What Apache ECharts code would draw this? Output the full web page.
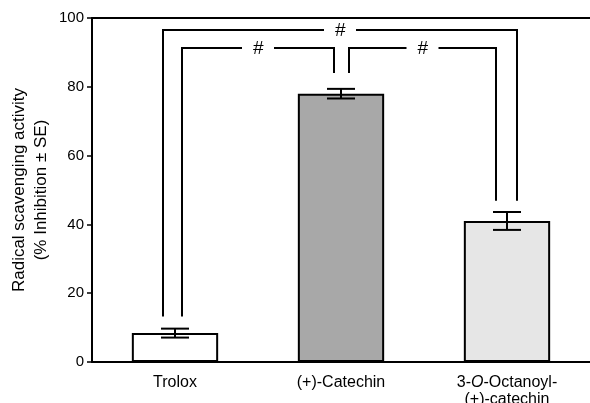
<!DOCTYPE html>
<html>
<head>
<meta charset="utf-8">
<script src="https://cdn.jsdelivr.net/npm/echarts@6/dist/echarts.min.js"></script>
<style>
  html, body { margin: 0; padding: 0; background: #fff; }
  #chart { width: 590px; height: 403px; }
</style>
</head>
<body>
<div id="chart"></div>
<script>
    // data
    var categories = ['Trolox', '(+)-Catechin', '3-O-Octanoyl-(+)-catechin'];
    var means      = [8.4, 78.0, 41.0];
    var errors     = [1.3, 1.4, 2.6];
    var yTicks     = [0, 20, 40, 60, 80, 100];
    // [fromCategory, toCategory, level, fromEnd, toEnd]
    var brackets   = [
        [0, 1, 91.3, 13.2, 84.0],
        [1, 2, 91.3, 84.0, 46.9],
        [0, 2, 96.5, 13.2, 46.9]
    ];
    var bracketMark = '#';

    var barColors = ['#ffffff', '#a8a8a8', '#e6e6e6'];
    var bracketOffsets = [[7, -7], [8, -11], [-12, 10]];
    var font = 'Liberation Sans, Arial, Helvetica, sans-serif';

    var chart = echarts.init(document.getElementById('chart'));

    var xLabels = {
        'Trolox': 'Trolox',
        '(+)-Catechin': '(+)-Catechin',
        '3-O-Octanoyl-(+)-catechin': '3-{it|O}-Octanoyl-\n(+)-catechin'
    };

    var option = {
        animation: false,
        backgroundColor: '#fff',
        grid: { left: 92, right: 0, top: 18, bottom: 41, containLabel: false, outerBoundsMode: 'none' },
        xAxis: [
            {
                type: 'category',
                data: categories,
                axisLine: { lineStyle: { color: '#000', width: 2 } },
                axisTick: { show: false },
                axisLabel: {
                    color: '#000',
                    fontFamily: font,
                    fontSize: 16,
                    lineHeight: 17,
                    margin: 12,
                    interval: 0,
                    formatter: function (v) { return xLabels[v]; },
                    rich: {
                        it: { fontStyle: 'italic', fontSize: 16, fontFamily: font, color: '#000', lineHeight: 17 }
                    }
                }
            },
            {
                type: 'category',
                position: 'top',
                data: categories,
                axisLine: { lineStyle: { color: '#000', width: 2 } },
                axisTick: { show: false },
                axisLabel: { show: false }
            }
        ],
        yAxis: {
            type: 'value',
            min: yTicks[0],
            max: yTicks[yTicks.length - 1],
            interval: 20,
            name: 'Radical scavenging activity\n(% Inhibition ± SE)',
            nameLocation: 'middle',
            nameGap: 40,
            nameMoveOverlap: false,
            nameTextStyle: { color: '#000', fontFamily: font, fontSize: 17, lineHeight: 22 },
            axisLine: { show: true, lineStyle: { color: '#000', width: 2 } },
            axisTick: { show: true, length: 5, lineStyle: { color: '#000', width: 1.5 } },
            axisLabel: { color: '#000', fontFamily: font, fontSize: 15, margin: 8 },
            splitLine: { show: false }
        },
        series: [
            {
                type: 'bar',
                barWidth: '52%',
                data: means.map(function (m, i) {
                    return {
                        value: m,
                        itemStyle: { color: barColors[i], borderColor: '#000', borderWidth: 2 }
                    };
                })
            },
            {
                type: 'custom',
                z: 5,
                data: means.map(function (m, i) { return [i, m - errors[i], m + errors[i]]; }),
                encode: { x: 0, y: [1, 2] },
                renderItem: function (params, api) {
                    var lo = api.coord([api.value(0), api.value(1)]);
                    var hi = api.coord([api.value(0), api.value(2)]);
                    var hw = 14;
                    var st = { stroke: '#000', lineWidth: 2 };
                    return {
                        type: 'group',
                        children: [
                            { type: 'line', shape: { x1: lo[0], y1: lo[1], x2: hi[0], y2: hi[1] }, style: st },
                            { type: 'line', shape: { x1: lo[0] - hw, y1: lo[1], x2: lo[0] + hw, y2: lo[1] }, style: st },
                            { type: 'line', shape: { x1: hi[0] - hw, y1: hi[1], x2: hi[0] + hw, y2: hi[1] }, style: st }
                        ]
                    };
                }
            },
            {
                type: 'custom',
                z: 6,
                clip: false,
                data: brackets,
                encode: { x: 0, y: 2 },
                renderItem: function (params, api) {
                    var off = bracketOffsets[params.dataIndex];
                    var x1 = api.coord([api.value(0), 0])[0] + off[0];
                    var x2 = api.coord([api.value(1), 0])[0] + off[1];
                    var yTop = api.coord([0, api.value(2)])[1];
                    var y1 = api.coord([0, api.value(3)])[1];
                    var y2 = api.coord([0, api.value(4)])[1];
                    var xm = (x1 + x2) / 2;
                    var gap = 16;
                    var st = { stroke: '#000', lineWidth: 2, fill: null };
                    return {
                        type: 'group',
                        children: [
                            { type: 'polyline', shape: { points: [[x1, y1], [x1, yTop], [xm - gap, yTop]] }, style: st },
                            { type: 'polyline', shape: { points: [[xm + gap, yTop], [x2, yTop], [x2, y2]] }, style: st },
                            {
                                type: 'text',
                                style: {
                                    x: xm, y: yTop + 1,
                                    text: bracketMark,
                                    fill: '#000',
                                    font: 'italic 19px ' + font,
                                    align: 'center',
                                    verticalAlign: 'middle'
                                }
                            }
                        ]
                    };
                }
            }
        ]
    };

    chart.setOption(option);
</script>
</body>
</html>
